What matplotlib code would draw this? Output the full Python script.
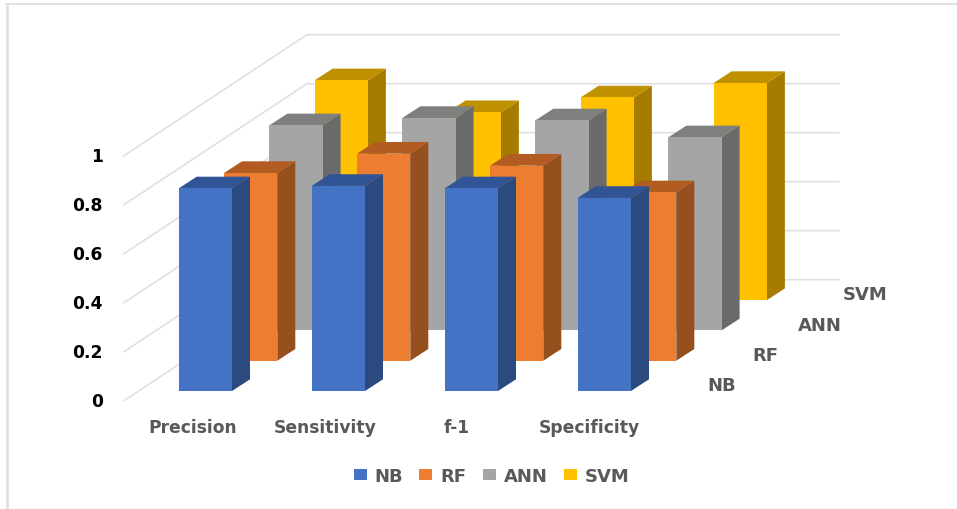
import matplotlib
matplotlib.use('Agg')
import matplotlib.pyplot as plt
from matplotlib.patches import Patch, Polygon

plt.rcParams['font.family'] = ['DejaVu Sans']

# Data
categories = ['Precision', 'Sensitivity', 'f-1', 'Specificity']
series = ['NB', 'RF', 'ANN', 'SVM']
nb = [0.827, 0.837, 0.827, 0.788]
rf = [0.766, 0.845, 0.796, 0.687]
ann = [0.837, 0.867, 0.857, 0.788]
svm = [0.897, 0.767, 0.827, 0.886]
values = [nb, rf, ann, svm]
yticks = [0, 0.2, 0.4, 0.6, 0.8, 1]

# Colours (front, side, top)
front = ['#4472C4', '#ED7D31', '#A5A5A5', '#FFC000']
side = ['#2A4A80', '#96501D', '#6A6A6A', '#A67C00']
top = ['#305496', '#B35C22', '#7F7F7F', '#BF9000']

# Oblique projection: one depth step moves a bar right and up
W, H = 957, 510
px_cat = 133.0   # pixels per category
px_val = 245.0   # pixels per 1.0 of value
x0, y0 = 178.7, 392.0  # front left foot of the first bar
step_x = 45.3 / px_cat
step_y = 30.3 / px_val
bar_w = 53.3 / px_cat
dep_x = 18.0 / px_cat
dep_y = 11.7 / px_val
wall_x = -54.7 / px_cat  # floor corner, relative to first bar
wall_y = -9.7 / px_val
wall_dx = 183.0 / px_cat
wall_dy = 121.0 / px_val
wall_w = 532.0 / px_cat

fig = plt.figure(figsize=(W / 100, H / 100), dpi=100)
ax = fig.add_axes([0, 0, 1, 1])
ax.set_xlim(-x0 / px_cat, (W - x0) / px_cat)
ax.set_ylim((y0 - H) / px_val, y0 / px_val)
ax.axis('off')

# Grey edge left and top of the picture
fig.add_artist(plt.Line2D([7.5 / W, 7.5 / W], [0, 1 - 5 / H], color='#E2E2E2', lw=2))
fig.add_artist(plt.Line2D([6 / W, 1], [1 - 5 / H, 1 - 5 / H], color='#E2E2E2', lw=1.4))
fig.add_artist(plt.Line2D([0, 1], [0.5 / H, 0.5 / H], color='#EDEDED', lw=1))

# Gridlines on side and back walls
for t in yticks:
    xs = [wall_x, wall_x + wall_dx, wall_x + wall_dx + wall_w]
    ys = [wall_y + t, wall_y + t + wall_dy, wall_y + t + wall_dy]
    ax.plot(xs, ys, color='#E0E0E0', lw=1.2, zorder=1)
    ax.text(wall_x - 21 / px_cat, wall_y + t, str(t), ha='right', va='center',
            fontsize=12.3, fontweight='bold', color='black')

# Bars, back row first
for s in range(3, -1, -1):
    for c, v in enumerate(values[s]):
        xl = c + s * step_x
        xr = xl + bar_w
        yb = s * step_y
        yt = yb + v
        ax.add_patch(Polygon([(xr, yb), (xr + dep_x, yb + dep_y), (xr + dep_x, yt + dep_y), (xr, yt)],
                             fc=side[s], ec='none', zorder=2))
        ax.add_patch(Polygon([(xl, yt), (xr, yt), (xr + dep_x, yt + dep_y), (xl + dep_x, yt + dep_y)],
                             fc=top[s], ec='none', zorder=2))
        ax.add_patch(Polygon([(xl, yb), (xr, yb), (xr, yt), (xl, yt)],
                             fc=front[s], ec='none', zorder=2))

# Category labels
for c, name in enumerate(categories):
    ax.text(c * 132.3 / px_cat + 13.8 / px_cat, -36 / px_val, name, ha='center', va='center',
            fontsize=12.3, fontweight='bold', color='#595959')

# Depth axis labels
for s, name in enumerate(series):
    ax.text(3.972 + s * step_x, 0.0229 + s * step_y, name, ha='left', va='center',
            fontsize=13, fontweight='bold', color='#595959')

handles = [Patch(fc=front[i], ec='none') for i in range(4)]
ax.legend(handles, series, ncol=4, loc='center', bbox_to_anchor=(491.5 / W, 1 - 477 / H),
          frameon=False, handlelength=0.72, handleheight=0.6, handletextpad=0.44,
          columnspacing=0.9, prop={'size': 13, 'weight': 'bold'}, labelcolor='#595959')

fig.savefig('out.png', dpi=100)
